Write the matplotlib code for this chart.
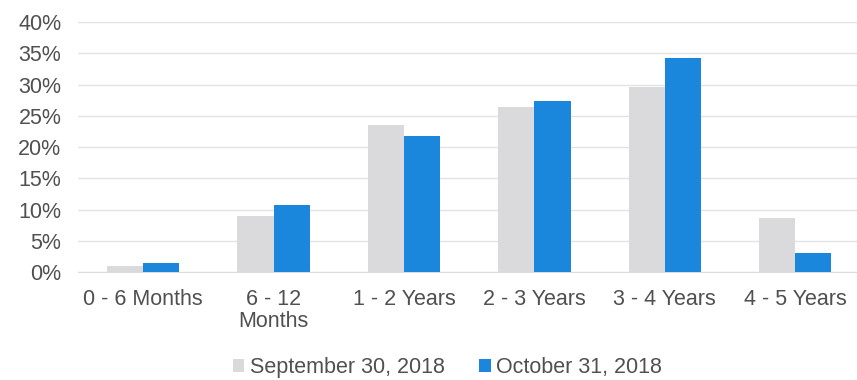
import matplotlib
matplotlib.use("Agg")
import matplotlib.pyplot as plt
import numpy as np

categories = ["0 - 6 Months", "6 - 12\nMonths", "1 - 2 Years", "2 - 3 Years", "3 - 4 Years", "4 - 5 Years"]
sep_2018 = [1.0, 8.9, 23.6, 26.4, 29.6, 8.7]
oct_2018 = [1.5, 10.7, 21.7, 27.3, 34.2, 3.1]
series_labels = ["September 30, 2018", "October 31, 2018"]
y_ticks = [0, 5, 10, 15, 20, 25, 30, 35, 40]

plt.rcParams["font.family"] = ["Liberation Sans", "DejaVu Sans"]

fig = plt.figure(figsize=(8.57, 3.8), dpi=100)
ax = fig.add_axes([0.091, 0.284, 0.913, 0.658])

x = np.arange(len(categories))
w = 0.277
gray = "#dadadd"
blue = "#1a86dc"
ax.bar(x - w / 2, sep_2018, width=w, color=gray, label=series_labels[0], zorder=3)
ax.bar(x + w / 2, oct_2018, width=w, color=blue, label=series_labels[1], zorder=3)

ax.set_xlim(-0.5, len(categories) - 0.5)
ax.set_ylim(0, 40)
ax.set_yticks(y_ticks)
ax.set_yticklabels([f"{v}%" for v in y_ticks])
ax.yaxis.grid(True, color="#e3e3e3", linewidth=1.0, zorder=0)
ax.set_axisbelow(True)
for s in ["top", "right", "left"]:
    ax.spines[s].set_visible(False)
ax.spines["bottom"].set_color("#dcdcdc")
ax.tick_params(axis="both", length=0, labelsize=15.5, colors="#505050")
ax.tick_params(axis="y", pad=12)
ax.tick_params(axis="x", pad=12)
ax.set_xticks(x)
ax.set_xticklabels(categories, linespacing=1.05)

leg = fig.legend(loc="center", bbox_to_anchor=(0.522, 0.033), ncol=2, frameon=False,
                 fontsize=15.5, handlelength=0.55, handleheight=0.55, handletextpad=0.25,
                 columnspacing=1.6)
for t in leg.get_texts():
    t.set_color("#505050")

fig.savefig("out.png", dpi=100)
